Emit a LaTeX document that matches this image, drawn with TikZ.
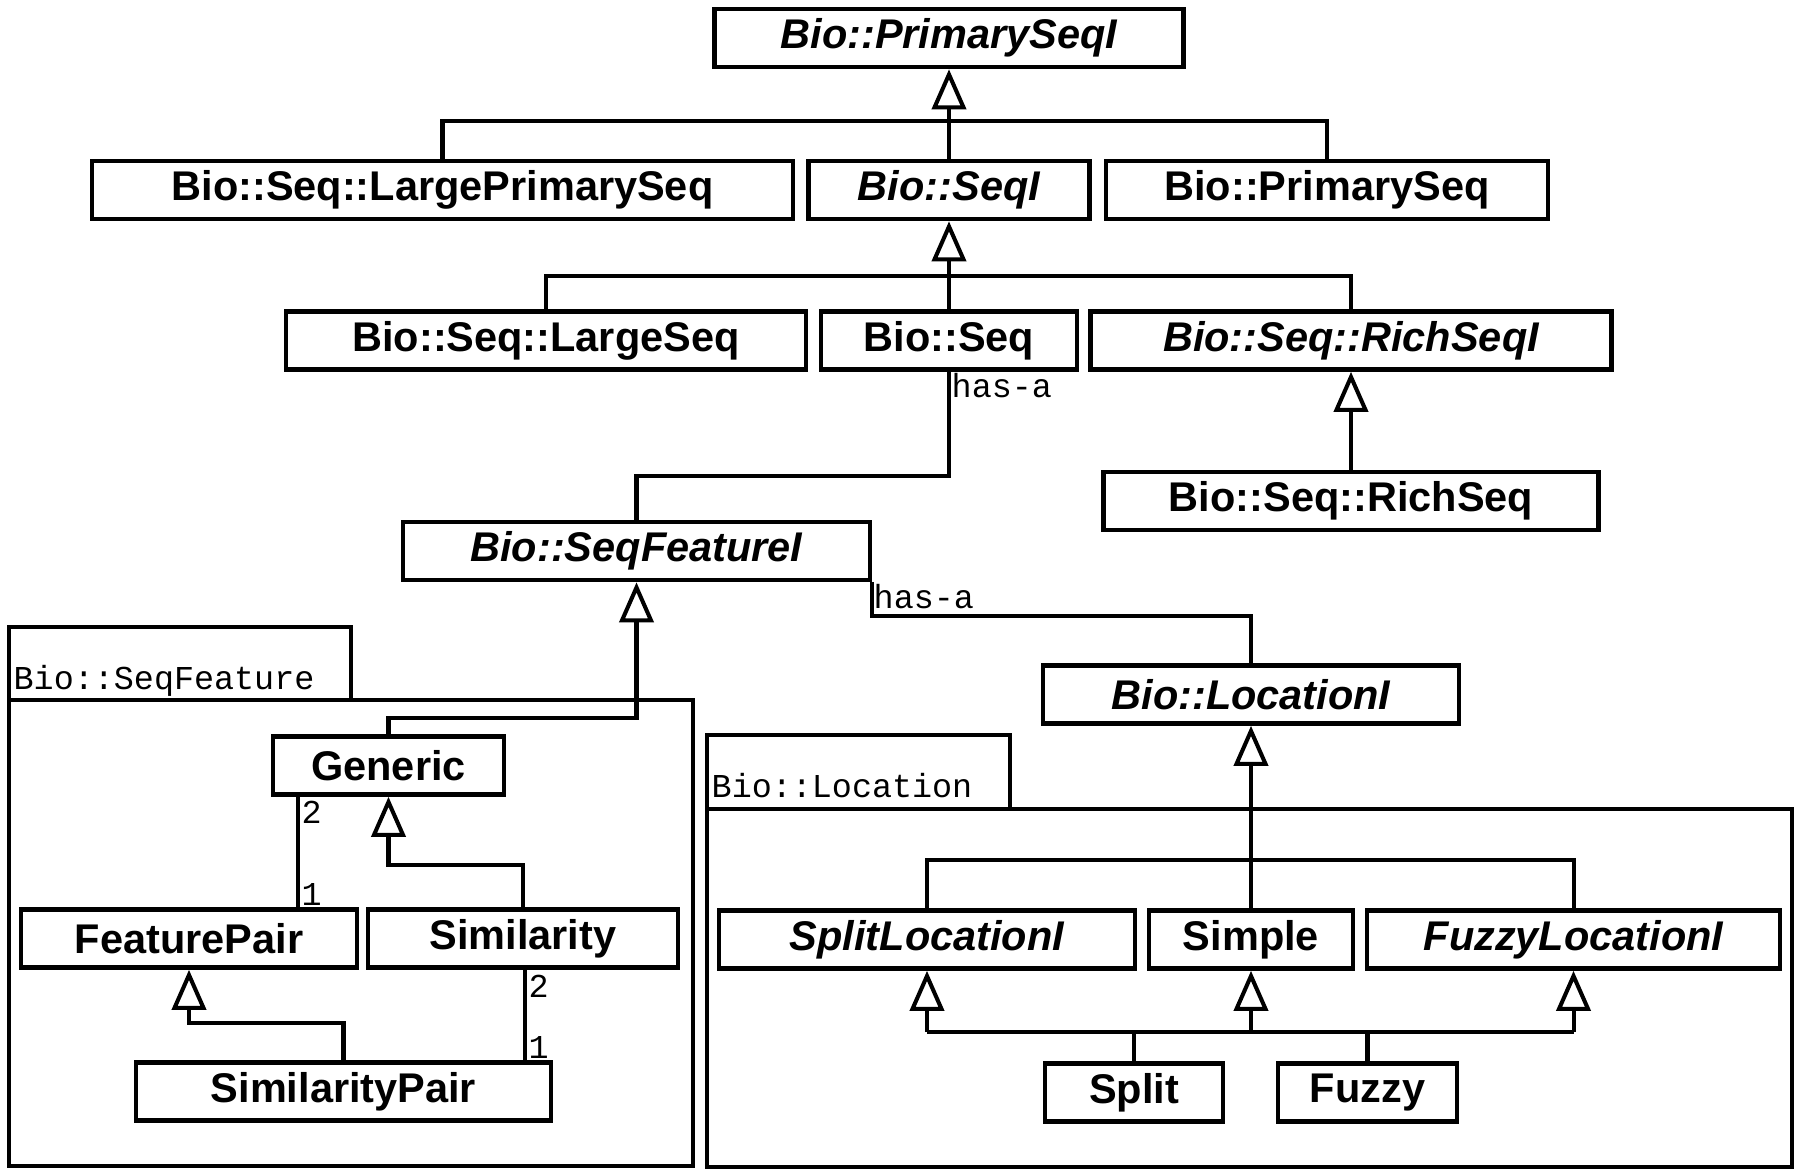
\documentclass[tikz,border=0pt]{standalone}
\usepackage{fontspec}
\newfontfamily\clsfont{Liberation Sans}
\newfontfamily\pkgfont{Liberation Mono}
\usetikzlibrary{arrows.meta, positioning}

\begin{document}
\begin{tikzpicture}[
			x=0.01cm, y=-0.01cm,
			cls/.style={rectangle, draw, line width=1.3pt, inner sep=0pt,
				minimum height=0.58cm, font=\clsfont\fontsize{11.8}{14}\selectfont\bfseries},
			icls/.style={cls, font=\clsfont\fontsize{11.8}{14}\selectfont\bfseries\itshape},
			conn/.style={line width=1.15pt},
			inh/.style={conn, -{Triangle[open, length=0.40cm, width=0.34cm]}},
			pkg/.style={line width=0.9pt},
			lbl/.style={inner sep=0pt, anchor=base west, font=\pkgfont\fontsize{9.5}{11}\selectfont}
			]
			\fill[white] (0,0) rectangle (1800,1173);
			\useasboundingbox (0,0) rectangle (1800,1173);
			
			% packages
			\draw[pkg] (9,627) rectangle (351,700);
			\draw[pkg] (9,700) rectangle (693,1166);
			\node[lbl] (pkgsf) at (13,689) {Bio::SeqFeature};
			\draw[pkg] (707,735) rectangle (1010,809);
			\draw[pkg] (707,809) rectangle (1792,1167);
			\node[lbl] (pkgloc) at (711,797) {Bio::Location};
			
			% classes
			\node[icls, minimum width=4.69cm] (psi) at (949,38) {Bio::PrimarySeqI};
			\node[cls, minimum width=7.01cm] (lpseq) at (442.5,190) {Bio::Seq::LargePrimarySeq};
			\node[icls, minimum width=2.81cm] (seqi) at (949,190) {Bio::SeqI};
			\node[cls, minimum width=4.42cm] (pseq) at (1327,190) {Bio::PrimarySeq};
			\node[cls, minimum width=5.20cm] (lseq) at (546,340.5) {Bio::Seq::LargeSeq};
			\node[cls, minimum width=2.56cm] (seq) at (949,340.5) {Bio::Seq};
			\node[icls, minimum width=5.21cm] (richi) at (1351,340.5) {Bio::Seq::RichSeqI};
			\node[cls, minimum width=4.95cm] (rich) at (1351,501) {Bio::Seq::RichSeq};
			\node[icls, minimum width=4.67cm] (sfi) at (636.5,551) {Bio::SeqFeatureI};
			\node[icls, minimum width=4.16cm] (loci) at (1251,694.5) {Bio::LocationI};
			\node[cls, minimum width=2.31cm] (generic) at (388.5,765.5) {Generic};
			\node[cls, minimum width=3.36cm] (fpair) at (189,938.5) {FeaturePair};
			\node[cls, minimum width=3.10cm] (simil) at (523,938.5) {Similarity};
			\node[cls, minimum width=4.15cm] (simpair) at (343.5,1091.5) {SimilarityPair};
			\node[icls, minimum width=4.16cm] (splitli) at (927,939.5) {SplitLocationI};
			\node[cls, minimum width=2.04cm] (simple) at (1251,939.5) {Simple};
			\node[icls, minimum width=4.13cm] (fuzzyli) at (1573.5,939.5) {FuzzyLocationI};
			\node[cls, minimum width=1.78cm] (split) at (1134,1092.5) {Split};
			\node[cls, minimum width=1.79cm] (fuzzy) at (1367.5,1092.5) {Fuzzy};
			
			% inheritance
			\draw[conn] (lpseq.north) -- ++(0,-38) -| (pseq.north);
			\draw[inh] (seqi.north) -- (psi.south);
			\draw[conn] (lseq.north) -- ++(0,-33) -| (richi.north);
			\draw[inh] (seq.north) -- (seqi.south);
			\draw[inh] (rich.north) -- (richi.south);
			\draw[inh] (generic.north) -- ++(0,-16) -| (sfi.south);
			\draw[inh] (simil.north) -- ++(0,-42) -| (generic.south);
			\draw[inh] (simpair.north) -- ++(0,-37) -| (fpair.south);
			\draw[conn] (splitli.north) -- ++(0,-48) -| (fuzzyli.north);
			\draw[inh] (simple.north) -- (loci.south);
			\coordinate (lbar) at (0,1032);
			\draw[conn] (splitli.south |- lbar) -- (fuzzyli.south |- lbar);
			\draw[conn] (split.north) -- (split.north |- lbar);
			\draw[conn] (fuzzy.north) -- (fuzzy.north |- lbar);
			\foreach \p in {splitli, simple, fuzzyli}
				\draw[inh] (\p.south |- lbar) -- (\p.south);
			
			% has-a
			\draw[conn] (seq.south) -- ++(0,104) -| (sfi.north);
			\node[lbl] (hasa1) at (951,397) {has-a};
			\draw[conn] (sfi.south east) -- ++(0,34) -| (loci.north);
			\node[lbl] (hasa2) at (873,608) {has-a};
			
			% associations
			\coordinate (gf) at (298,0);
			\draw[conn] (gf |- generic.south) -- (gf |- fpair.north);
			\node[lbl] (m1) at (301,823) {2};
			\node[lbl] (m2) at (301,905) {1};
			\coordinate (ss) at (525,0);
			\draw[conn] (ss |- simil.south) -- (ss |- simpair.north);
			\node[lbl] (m3) at (528,997) {2};
			\node[lbl] (m4) at (528,1058) {1};
		\end{tikzpicture}
\end{document}
